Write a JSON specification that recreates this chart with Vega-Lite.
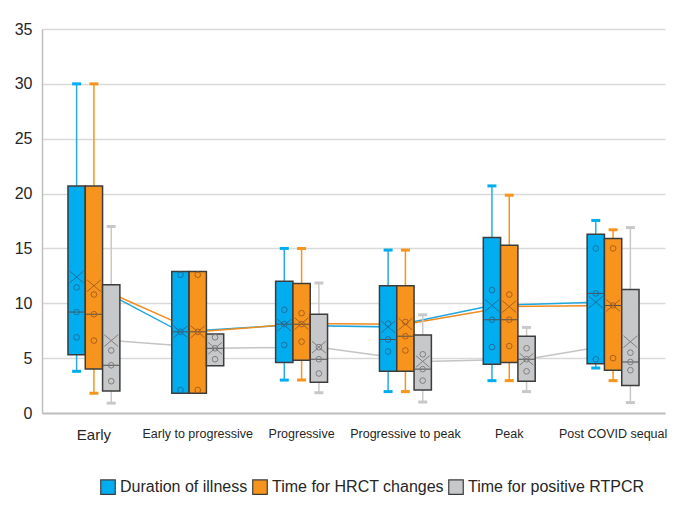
{
  "$schema": "https://vega.github.io/schema/vega-lite/v6.json",
  "width": 623,
  "height": 384,
  "autosize": {"type": "none"},
  "padding": {"left": 42, "top": 29, "right": 14, "bottom": 105},
  "background": "white",
  "datasets": {
    "boxes": [
      {"stage": "Early", "series": "Duration of illness", "min": 3.8, "q1": 5.3, "median": 9.2, "q3": 20.7, "max": 30, "mean": 12.4},
      {"stage": "Early", "series": "Time for HRCT changes", "min": 1.8, "q1": 4.0, "median": 9.0, "q3": 20.7, "max": 30, "mean": 11.6},
      {"stage": "Early", "series": "Time for positive RTPCR", "min": 0.9, "q1": 2.0, "median": 4.35, "q3": 11.7, "max": 17, "mean": 6.6},
      {"stage": "Early to progressive", "series": "Duration of illness", "min": null, "q1": 1.8, "median": 7.4, "q3": 12.9, "max": null, "mean": 7.4},
      {"stage": "Early to progressive", "series": "Time for HRCT changes", "min": null, "q1": 1.8, "median": 7.4, "q3": 12.9, "max": null, "mean": 7.4},
      {"stage": "Early to progressive", "series": "Time for positive RTPCR", "min": null, "q1": 4.3, "median": 5.9, "q3": 7.2, "max": null, "mean": 5.9},
      {"stage": "Progressive", "series": "Duration of illness", "min": 3.0, "q1": 4.6, "median": 8.1, "q3": 12.0, "max": 15.0, "mean": 8.0},
      {"stage": "Progressive", "series": "Time for HRCT changes", "min": 3.0, "q1": 4.8, "median": 8.1, "q3": 11.8, "max": 15.0, "mean": 8.15},
      {"stage": "Progressive", "series": "Time for positive RTPCR", "min": 1.85, "q1": 2.8, "median": 4.9, "q3": 9.0, "max": 11.85, "mean": 6.0},
      {"stage": "Progressive to peak", "series": "Duration of illness", "min": 1.95, "q1": 3.8, "median": 6.7, "q3": 11.6, "max": 14.85, "mean": 7.85},
      {"stage": "Progressive to peak", "series": "Time for HRCT changes", "min": 1.95, "q1": 3.8, "median": 7.0, "q3": 11.6, "max": 14.85, "mean": 8.1},
      {"stage": "Progressive to peak", "series": "Time for positive RTPCR", "min": 1.0, "q1": 2.1, "median": 4.0, "q3": 7.1, "max": 8.95, "mean": 4.7},
      {"stage": "Peak", "series": "Duration of illness", "min": 2.95, "q1": 4.45, "median": 8.5, "q3": 16.0, "max": 20.7, "mean": 9.8},
      {"stage": "Peak", "series": "Time for HRCT changes", "min": 2.95, "q1": 4.6, "median": 8.5, "q3": 15.3, "max": 19.85, "mean": 9.7},
      {"stage": "Peak", "series": "Time for positive RTPCR", "min": 1.95, "q1": 2.9, "median": 4.9, "q3": 7.0, "max": 7.8, "mean": 4.9},
      {"stage": "Post COVID sequal", "series": "Duration of illness", "min": 4.1, "q1": 4.5, "median": 10.9, "q3": 16.3, "max": 17.55, "mean": 10.1},
      {"stage": "Post COVID sequal", "series": "Time for HRCT changes", "min": 2.95, "q1": 3.9, "median": 9.8, "q3": 15.9, "max": 16.7, "mean": 9.8},
      {"stage": "Post COVID sequal", "series": "Time for positive RTPCR", "min": 0.95, "q1": 2.5, "median": 4.65, "q3": 11.25, "max": 16.9, "mean": 6.5}
    ],
    "points": [
      {"stage": "Early", "series": "Duration of illness", "value": 11.45},
      {"stage": "Early", "series": "Duration of illness", "value": 9.2},
      {"stage": "Early", "series": "Duration of illness", "value": 6.9},
      {"stage": "Early", "series": "Time for HRCT changes", "value": 10.8},
      {"stage": "Early", "series": "Time for HRCT changes", "value": 9.0},
      {"stage": "Early", "series": "Time for HRCT changes", "value": 6.6},
      {"stage": "Early", "series": "Time for positive RTPCR", "value": 5.7},
      {"stage": "Early", "series": "Time for positive RTPCR", "value": 4.35},
      {"stage": "Early", "series": "Time for positive RTPCR", "value": 2.9},
      {"stage": "Early to progressive", "series": "Duration of illness", "value": 12.6},
      {"stage": "Early to progressive", "series": "Duration of illness", "value": 7.4},
      {"stage": "Early to progressive", "series": "Duration of illness", "value": 2.1},
      {"stage": "Early to progressive", "series": "Time for HRCT changes", "value": 12.6},
      {"stage": "Early to progressive", "series": "Time for HRCT changes", "value": 7.4},
      {"stage": "Early to progressive", "series": "Time for HRCT changes", "value": 2.1},
      {"stage": "Early to progressive", "series": "Time for positive RTPCR", "value": 6.9},
      {"stage": "Early to progressive", "series": "Time for positive RTPCR", "value": 5.9},
      {"stage": "Early to progressive", "series": "Time for positive RTPCR", "value": 4.9},
      {"stage": "Progressive", "series": "Duration of illness", "value": 9.4},
      {"stage": "Progressive", "series": "Duration of illness", "value": 8.1},
      {"stage": "Progressive", "series": "Duration of illness", "value": 6.2},
      {"stage": "Progressive", "series": "Time for HRCT changes", "value": 9.1},
      {"stage": "Progressive", "series": "Time for HRCT changes", "value": 8.1},
      {"stage": "Progressive", "series": "Time for HRCT changes", "value": 6.5},
      {"stage": "Progressive", "series": "Time for positive RTPCR", "value": 6.0},
      {"stage": "Progressive", "series": "Time for positive RTPCR", "value": 4.9},
      {"stage": "Progressive", "series": "Time for positive RTPCR", "value": 3.6},
      {"stage": "Progressive to peak", "series": "Duration of illness", "value": 8.15},
      {"stage": "Progressive to peak", "series": "Duration of illness", "value": 6.7},
      {"stage": "Progressive to peak", "series": "Duration of illness", "value": 5.6},
      {"stage": "Progressive to peak", "series": "Time for HRCT changes", "value": 8.3},
      {"stage": "Progressive to peak", "series": "Time for HRCT changes", "value": 7.0},
      {"stage": "Progressive to peak", "series": "Time for HRCT changes", "value": 5.7},
      {"stage": "Progressive to peak", "series": "Time for positive RTPCR", "value": 5.35},
      {"stage": "Progressive to peak", "series": "Time for positive RTPCR", "value": 4.0},
      {"stage": "Progressive to peak", "series": "Time for positive RTPCR", "value": 2.95},
      {"stage": "Peak", "series": "Duration of illness", "value": 11.2},
      {"stage": "Peak", "series": "Duration of illness", "value": 8.5},
      {"stage": "Peak", "series": "Duration of illness", "value": 6.0},
      {"stage": "Peak", "series": "Time for HRCT changes", "value": 10.8},
      {"stage": "Peak", "series": "Time for HRCT changes", "value": 8.5},
      {"stage": "Peak", "series": "Time for HRCT changes", "value": 6.1},
      {"stage": "Peak", "series": "Time for positive RTPCR", "value": 5.9},
      {"stage": "Peak", "series": "Time for positive RTPCR", "value": 4.9},
      {"stage": "Peak", "series": "Time for positive RTPCR", "value": 3.8},
      {"stage": "Post COVID sequal", "series": "Duration of illness", "value": 15.0},
      {"stage": "Post COVID sequal", "series": "Duration of illness", "value": 10.9},
      {"stage": "Post COVID sequal", "series": "Duration of illness", "value": 4.9},
      {"stage": "Post COVID sequal", "series": "Time for HRCT changes", "value": 15.0},
      {"stage": "Post COVID sequal", "series": "Time for HRCT changes", "value": 9.8},
      {"stage": "Post COVID sequal", "series": "Time for HRCT changes", "value": 5.0},
      {"stage": "Post COVID sequal", "series": "Time for positive RTPCR", "value": 5.5},
      {"stage": "Post COVID sequal", "series": "Time for positive RTPCR", "value": 4.65},
      {"stage": "Post COVID sequal", "series": "Time for positive RTPCR", "value": 3.9}
    ]
  },
  "encoding": {
    "x": {
      "field": "stage",
      "type": "nominal",
      "sort": ["Early", "Early to progressive", "Progressive", "Progressive to peak", "Peak", "Post COVID sequal"],
      "scale": {"paddingInner": 0.5, "paddingOuter": 0.25},
      "title": null,
      "axis": {
        "labelAngle": 0,
        "labelFontSize": {"condition": {"test": "datum.value === 'Early'", "value": 15}, "value": 12.5},
        "labelColor": "#262626",
        "labelPadding": 14,
        "labelOverlap": false,
        "labelLimit": 0,
        "ticks": false,
        "grid": false,
        "domainColor": "#bfbfbf",
        "domainWidth": 2
      }
    },
    "xOffset": {
      "field": "series",
      "type": "nominal",
      "sort": ["Duration of illness", "Time for HRCT changes", "Time for positive RTPCR"],
      "scale": {"paddingInner": 0, "paddingOuter": 0}
    }
  },
  "resolve": {"scale": {"stroke": "independent"}, "legend": {"stroke": "independent"}},
  "layer": [
    {
      "data": {"name": "boxes"},
      "mark": {"type": "line", "strokeWidth": 1.5},
      "encoding": {
        "y": {"field": "mean", "type": "quantitative", "scale": {"domain": [0, 35], "nice": false}},
        "stroke": {"field": "series", "type": "nominal", "legend": null,
          "scale": {"domain": ["Duration of illness", "Time for HRCT changes", "Time for positive RTPCR"], "range": ["#1ea8e2", "#f28a1e", "#c4c4c4"]}},
        "order": {"value": null}
      }
    },
    {
      "data": {"name": "boxes"},
      "transform": [{"filter": "isValid(datum.min)"}],
      "mark": {"type": "rule", "strokeWidth": 1.5},
      "encoding": {
        "y": {"field": "min", "type": "quantitative"},
        "y2": {"field": "max"},
        "stroke": {"field": "series", "type": "nominal", "legend": null,
          "scale": {"domain": ["Duration of illness", "Time for HRCT changes", "Time for positive RTPCR"], "range": ["#29abe2", "#f7941d", "#c8c8c8"]}}
      }
    },
    {
      "data": {"name": "boxes"},
      "mark": {"type": "bar", "stroke": "#3c3c3c", "strokeWidth": 1.5},
      "encoding": {
        "y": {"field": "q1", "type": "quantitative", "title": null,
          "axis": {"values": [0, 5, 10, 15, 20, 25, 30, 35], "labelFontSize": 16, "labelColor": "#262626", "labelPadding": 10, "ticks": false, "domainColor": "#bfbfbf", "domainWidth": 1.5, "gridColor": "#d9d9d9", "gridWidth": 1.5}},
        "y2": {"field": "q3"},
        "color": {"field": "series", "type": "nominal",
          "scale": {"domain": ["Duration of illness", "Time for HRCT changes", "Time for positive RTPCR"], "range": ["#00aeef", "#f7941d", "#c7c8ca"]},
          "legend": {"title": null, "orient": "none", "legendX": 58, "legendY": 450, "direction": "horizontal", "symbolType": "square", "symbolSize": 210, "symbolStrokeColor": "#3c3c3c", "symbolStrokeWidth": 1.2, "symbolOpacity": 1, "labelFontSize": 16, "labelColor": "#262626", "labelOffset": 4, "columnPadding": 2, "labelLimit": 0}}
      }
    },
    {
      "data": {"name": "boxes"},
      "transform": [{"filter": "isValid(datum.min)"}, {"fold": ["min", "max"], "as": ["end", "endValue"]}],
      "mark": {"type": "tick", "thickness": 3, "size": 9, "opacity": 1},
      "encoding": {
        "y": {"field": "endValue", "type": "quantitative"},
        "color": {"field": "series", "type": "nominal"}
      }
    },
    {
      "data": {"name": "boxes"},
      "mark": {"type": "tick", "thickness": 1, "size": 17, "color": "#505050", "opacity": 1},
      "encoding": {
        "y": {"field": "median", "type": "quantitative"}
      }
    },
    {
      "data": {"name": "points"},
      "mark": {"type": "point", "shape": "circle", "filled": false, "size": 32, "strokeWidth": 1, "opacity": 1},
      "encoding": {
        "y": {"field": "value", "type": "quantitative"},
        "stroke": {"field": "series", "type": "nominal", "legend": null,
          "scale": {"domain": ["Duration of illness", "Time for HRCT changes", "Time for positive RTPCR"], "range": ["#1f6f9c", "#a9601c", "#7f7f7f"]}}
      }
    },
    {
      "data": {"name": "boxes"},
      "mark": {"type": "point", "shape": "M-1,-0.85L1,0.85M-1,0.85L1,-0.85", "filled": false, "size": 190, "strokeWidth": 1, "opacity": 1},
      "encoding": {
        "y": {"field": "mean", "type": "quantitative"},
        "stroke": {"field": "series", "type": "nominal", "legend": null,
          "scale": {"domain": ["Duration of illness", "Time for HRCT changes", "Time for positive RTPCR"], "range": ["#1f6f9c", "#a9601c", "#7f7f7f"]}}
      }
    }
  ],
  "config": {
    "font": "Liberation Sans",
    "view": {"stroke": null},
    "axis": {"labelFont": "Liberation Sans"},
    "legend": {"labelFont": "Liberation Sans"}
  }
}
